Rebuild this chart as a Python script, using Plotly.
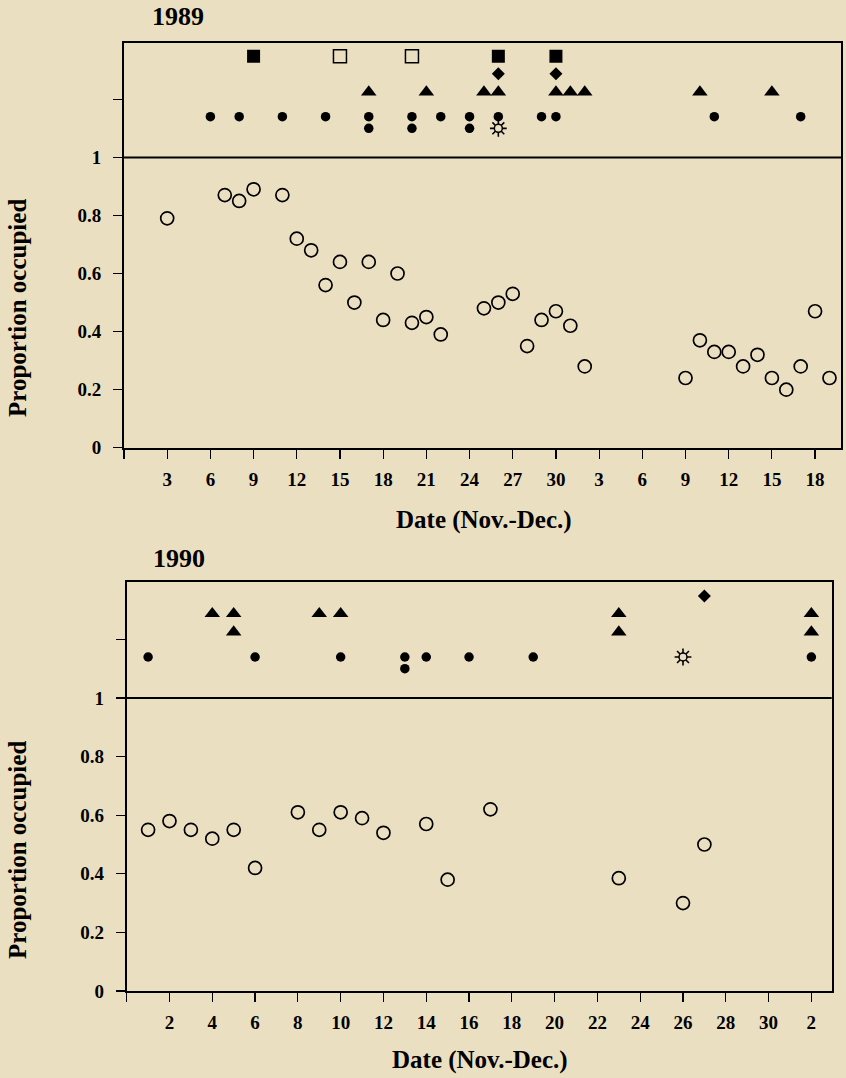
import plotly.graph_objects as go

W, H = 846, 1078
BG = "#ebdfc1"
FONT = "Liberation Serif"

# ---------------- data ----------------
# day index: Nov d -> d, Dec d -> 30 + d
days_1989 = [3, 7, 8, 9, 11, 12, 13, 14, 15, 16, 17, 18, 19, 20, 21, 22, 25, 26, 27, 28,
             29, 30, 31, 32, 39, 40, 41, 42, 43, 44, 45, 46, 47, 48, 49]
prop_1989 = [0.79, 0.87, 0.85, 0.89, 0.87, 0.72, 0.68, 0.56, 0.64, 0.50, 0.64, 0.44, 0.60, 0.43,
             0.45, 0.39, 0.48, 0.50, 0.53, 0.35, 0.44, 0.47, 0.42, 0.28, 0.24, 0.37, 0.33, 0.33,
             0.28, 0.32, 0.24, 0.20, 0.28, 0.47, 0.24]

days_1990 = [1, 2, 3, 4, 5, 6, 8, 9, 10, 11, 12, 14, 15, 17, 23, 26, 27]
prop_1990 = [0.55, 0.58, 0.55, 0.52, 0.55, 0.42, 0.61, 0.55, 0.61, 0.59, 0.54, 0.57, 0.38,
             0.62, 0.385, 0.30, 0.50]

xtick_vals_1989 = [0, 3, 6, 9, 12, 15, 18, 21, 24, 27, 30, 33, 36, 39, 42, 45, 48]
xtick_text_1989 = ["", "3", "6", "9", "12", "15", "18", "21", "24", "27", "30",
                   "3", "6", "9", "12", "15", "18"]
xtick_vals_1990 = [0, 2, 4, 6, 8, 10, 12, 14, 16, 18, 20, 22, 24, 26, 28, 30, 32]
xtick_text_1990 = ["", "2", "4", "6", "8", "10", "12", "14", "16", "18", "20", "22",
                   "24", "26", "28", "30", "2"]
ytick_vals = [0, 0.2, 0.4, 0.6, 0.8, 1.0, 1.2, 1.4]
ytick_text = ["0", "0.2", "0.4", "0.6", "0.8", "1", "", ""]

# event symbols above the 1.0 line: day index and stacking row (0 = lowest)
ev89_dot_days = [6, 8, 11, 14, 17, 17, 20, 20, 22, 24, 24, 26, 29, 30, 41, 47]
ev89_dot_rows = [1, 1, 1, 1, 1, 0, 1, 0, 1, 1, 0, 1, 1, 1, 1, 1]
ev89_tri_days = [17, 21, 25, 26, 30, 31, 32, 40, 45]
ev89_tri_rows = [2, 2, 2, 2, 2, 2, 2, 2, 2]
ev89_dia_days = [26, 30]
ev89_dia_rows = [3, 3]
ev89_sq_days = [9, 26, 30]
ev89_sq_rows = [4, 4, 4]
ev89_osq_days = [15, 20]
ev89_osq_rows = [4, 4]
ev89_sun_days = [26]
ev89_sun_rows = [0]

ev90_dot_days = [1, 6, 10, 13, 13, 14, 16, 19, 32]
ev90_dot_rows = [1, 1, 1, 1, 0, 1, 1, 1, 1]
ev90_tri_days = [4, 5, 5, 9, 10, 23, 23, 32, 32]
ev90_tri_rows = [3, 3, 2, 3, 3, 3, 2, 3, 2]
ev90_dia_days = [27]
ev90_dia_rows = [4]
ev90_sun_days = [26]
ev90_sun_rows = [1]

# ---------------- styling ----------------
ROW_Y = [1.10, 1.14, 1.225, 1.288, 1.348]


def rows_to_y(rows):
    return [ROW_Y[r] for r in rows]


def px(x):
    return x / W


def py(y):
    return 1 - y / H


fig = go.Figure()


def add_events(xa, ya, days, rows, symbol, size, color="black", lw=0, lc="black"):
    fig.add_trace(go.Scatter(
        x=days, y=rows_to_y(rows), mode="markers", xaxis=xa, yaxis=ya,
        showlegend=False, hoverinfo="skip",
        marker=dict(symbol=symbol, size=size, color=color,
                    line=dict(width=lw, color=lc))))


def add_sun(xa, ya, days, rows):
    add_events(xa, ya, days, rows, "asterisk-open", 14, lw=1.6)
    add_events(xa, ya, days, rows, "circle", 8, color=BG, lw=1.5)


def add_props(xa, ya, days, vals):
    fig.add_trace(go.Scatter(
        x=days, y=vals, mode="markers", xaxis=xa, yaxis=ya, showlegend=False,
        marker=dict(symbol="circle-open", size=13, color="black",
                    line=dict(width=1.7, color="black"))))


# 1989 panel
add_props("x", "y", days_1989, prop_1989)
add_events("x", "y", ev89_dot_days, ev89_dot_rows, "circle", 9.5)
add_events("x", "y", ev89_tri_days, ev89_tri_rows, "triangle-up", 13.5)
add_events("x", "y", ev89_dia_days, ev89_dia_rows, "diamond", 10)
add_events("x", "y", ev89_sq_days, ev89_sq_rows, "square", 13)
add_events("x", "y", ev89_osq_days, ev89_osq_rows, "square-open", 13, lw=1.5)
add_sun("x", "y", ev89_sun_days, ev89_sun_rows)

# 1990 panel
add_props("x2", "y2", days_1990, prop_1990)
add_events("x2", "y2", ev90_dot_days, ev90_dot_rows, "circle", 9.5)
add_events("x2", "y2", ev90_tri_days, ev90_tri_rows, "triangle-up", 13.5)
add_events("x2", "y2", ev90_dia_days, ev90_dia_rows, "diamond", 10)
add_sun("x2", "y2", ev90_sun_days, ev90_sun_rows)

tickfont = dict(family=FONT, size=19, color="black", weight="bold")
common_axis = dict(showgrid=False, zeroline=False, showline=True, linecolor="black",
                   linewidth=2, mirror=True, ticks="outside", tickcolor="black",
                   tickwidth=1.2, ticklen=9, tickfont=tickfont, automargin=False,
                   fixedrange=True)

fig.update_layout(
    width=W, height=H,
    margin=dict(l=0, r=0, t=0, b=0),
    paper_bgcolor=BG, plot_bgcolor=BG,
    showlegend=False,
    xaxis=dict(domain=[px(124), px(841)], range=[0, 49.8], anchor="y",
               tickmode="array", tickvals=xtick_vals_1989, ticktext=xtick_text_1989,
               ticklabelstandoff=4, **common_axis),
    yaxis=dict(domain=[py(447.7), py(42.7)], range=[0, 1.395], anchor="x",
               tickmode="array", tickvals=ytick_vals, ticktext=ytick_text,
               ticklabelstandoff=8, **common_axis),
    xaxis2=dict(domain=[px(126.7), px(831.7)], range=[0, 32.95], anchor="y2",
                tickmode="array", tickvals=xtick_vals_1990, ticktext=xtick_text_1990,
                ticklabelstandoff=4, **common_axis),
    yaxis2=dict(domain=[py(991), py(582)], range=[0, 1.396], anchor="x2",
                tickmode="array", tickvals=ytick_vals, ticktext=ytick_text,
                ticklabelstandoff=8, **common_axis),
)

# horizontal separator at proportion 1
for xr, yr in (("x domain", "y"), ("x2 domain", "y2")):
    fig.add_shape(type="line", xref=xr, yref=yr, x0=0, x1=1, y0=1, y1=1,
                  line=dict(color="black", width=2))

title_font = dict(family=FONT, size=25, color="black", weight="bold")
year_font = dict(family=FONT, size=26, color="black", weight="bold")
annots = [
    dict(text="1989", x=px(178), y=py(17), font=year_font),
    dict(text="1990", x=px(179), y=py(558), font=year_font),
    dict(text="Date (Nov.-Dec.)", x=px(484), y=py(520), font=title_font),
    dict(text="Date (Nov.-Dec.)", x=px(480), y=py(1060), font=title_font),
    dict(text="Proportion occupied", x=px(17), y=py(308), font=title_font, textangle=-90),
    dict(text="Proportion occupied", x=px(17), y=py(850), font=title_font, textangle=-90),
]
for a in annots:
    fig.add_annotation(xref="paper", yref="paper", showarrow=False,
                       xanchor="center", yanchor="middle", **a)

fig.write_html(
    "out.html",
    config={"displayModeBar": False, "staticPlot": True},
    post_script="document.body.style.margin='0';document.body.style.padding='0';"
                "document.body.style.overflow='hidden';document.body.style.background='" + BG + "';",
)
